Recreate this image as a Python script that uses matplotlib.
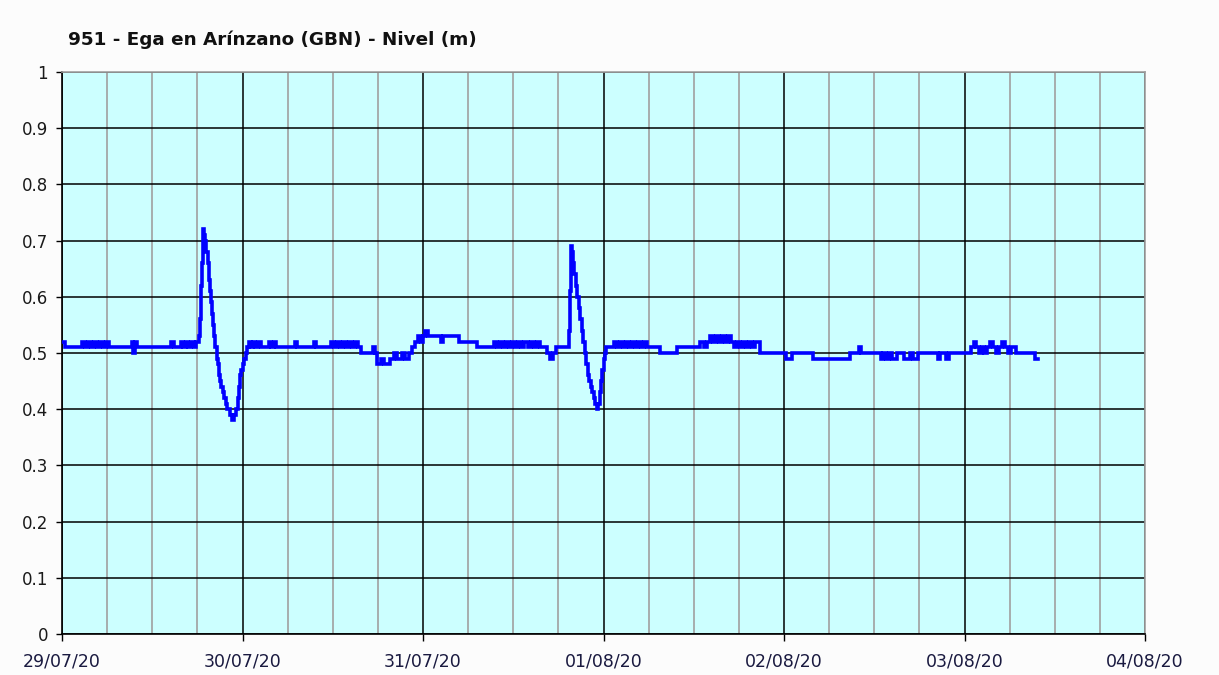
import matplotlib
matplotlib.use('Agg')
import matplotlib.pyplot as plt
import matplotlib.dates as mdates
import numpy as np
import pandas as pd

# Nivel (m) del río Ega en Arínzano, horas desde 29/07/20 00:00
horas = [0.0, 0.4, 2.7, 3.1, 3.5, 3.8, 4.2, 4.6, 5.0, 5.4, 5.8, 6.2, 6.6,
         9.3, 9.5, 9.7, 10.0, 10.4, 14.5, 14.9, 15.8, 16.1, 16.5, 16.8, 17.2, 17.5, 17.8,
         18.0, 18.2, 18.35, 18.5, 18.6, 18.75, 18.9, 19.05, 19.2, 19.35, 19.5, 19.65,
         19.8, 19.95, 20.1, 20.25, 20.4, 20.55, 20.7, 20.85, 21.0, 21.2, 21.4, 21.6,
         21.8, 22.0, 22.3, 22.6, 22.9, 23.2, 23.4, 23.55, 23.7, 23.85, 24.0, 24.2,
         24.4, 24.6, 24.9, 25.1, 25.4, 25.7, 26.0, 26.4,
         27.5, 27.8, 28.2, 28.5, 29.0, 31.0, 31.3, 33.5, 33.8,
         35.8, 36.2, 36.6, 37.0, 37.4, 37.8, 38.2, 38.6, 39.0, 39.4,
         39.7, 41.3, 41.6, 41.9, 42.4, 42.8, 43.6, 44.2, 44.5, 45.2, 45.6, 46.2,
         46.5, 46.9, 47.3, 47.7, 48.0, 48.3, 48.6, 50.4, 50.6, 52.8, 53.0,
         55.2, 57.4, 57.8, 58.2, 58.6, 59.0, 59.4, 59.8, 60.2, 60.6, 61.0, 61.4,
         62.0, 62.4, 62.8, 63.2, 63.6, 64.5, 64.9, 65.3, 65.7, 66.2,
         67.2, 67.35, 67.5, 67.65, 67.8, 67.95, 68.1, 68.3, 68.5, 68.7, 68.9, 69.1,
         69.3, 69.5, 69.7, 69.9, 70.1, 70.3, 70.5, 70.7, 70.9, 71.1, 71.3, 71.5,
         71.7, 71.85, 72.0, 72.15, 72.3, 72.5, 72.9,
         73.4, 73.8, 74.2, 74.6, 75.0, 75.4, 75.8, 76.2, 76.6, 77.0, 77.4, 77.8,
         79.5, 81.8, 84.8, 85.4, 85.8, 86.2, 86.6, 87.0, 87.4, 87.8, 88.2, 88.6,
         89.0, 89.4, 89.8, 90.2, 90.6, 91.0, 91.4, 91.8, 92.2, 92.8,
         96.3, 97.0, 99.8, 100.6, 104.8, 106.0, 106.3, 108.9, 109.2, 109.6, 110.0,
         110.4, 111.0, 112.0, 112.7, 113.2, 113.8, 114.2, 116.5, 116.8, 117.6,
         117.9, 119.8, 120.8, 121.2, 121.5, 121.9, 122.3, 122.6, 123.0, 123.4,
         123.8, 124.2, 124.6, 125.0, 125.4, 125.8, 126.2, 126.8, 127.4, 129.4, 129.8]
nivel = [0.52, 0.51, 0.52, 0.51, 0.52, 0.51, 0.52, 0.51, 0.52, 0.51, 0.52, 0.51, 0.51,
         0.52, 0.50, 0.52, 0.51, 0.51, 0.52, 0.51, 0.52, 0.51, 0.52, 0.51, 0.52, 0.51, 0.52,
         0.52, 0.53, 0.56, 0.62, 0.66, 0.72, 0.71, 0.70, 0.68, 0.66, 0.63, 0.61,
         0.59, 0.57, 0.55, 0.53, 0.51, 0.49, 0.48, 0.46, 0.45, 0.44, 0.43, 0.42,
         0.41, 0.40, 0.39, 0.38, 0.39, 0.40, 0.42, 0.44, 0.46, 0.47, 0.48, 0.49,
         0.50, 0.51, 0.52, 0.51, 0.52, 0.51, 0.52, 0.51,
         0.52, 0.51, 0.52, 0.51, 0.51, 0.52, 0.51, 0.52, 0.51,
         0.52, 0.51, 0.52, 0.51, 0.52, 0.51, 0.52, 0.51, 0.52, 0.51,
         0.50, 0.51, 0.50, 0.48, 0.49, 0.48, 0.49, 0.50, 0.49, 0.50, 0.49, 0.50,
         0.51, 0.52, 0.53, 0.52, 0.53, 0.54, 0.53, 0.52, 0.53, 0.52, 0.52,
         0.51, 0.52, 0.51, 0.52, 0.51, 0.52, 0.51, 0.52, 0.51, 0.52, 0.51, 0.52,
         0.51, 0.52, 0.51, 0.52, 0.51, 0.50, 0.49, 0.50, 0.51, 0.51,
         0.51, 0.54, 0.61, 0.69, 0.68, 0.66, 0.64, 0.62, 0.60, 0.58, 0.56, 0.54,
         0.52, 0.50, 0.48, 0.46, 0.45, 0.44, 0.43, 0.42, 0.41, 0.40, 0.41, 0.43,
         0.45, 0.47, 0.49, 0.50, 0.51, 0.51, 0.51,
         0.52, 0.51, 0.52, 0.51, 0.52, 0.51, 0.52, 0.51, 0.52, 0.51, 0.52, 0.51,
         0.50, 0.51, 0.52, 0.51, 0.52, 0.53, 0.52, 0.53, 0.52, 0.53, 0.52, 0.53,
         0.52, 0.51, 0.52, 0.51, 0.52, 0.51, 0.52, 0.51, 0.52, 0.50,
         0.49, 0.50, 0.49, 0.49, 0.50, 0.51, 0.50, 0.49, 0.50, 0.49, 0.50,
         0.49, 0.50, 0.49, 0.50, 0.49, 0.50, 0.50, 0.49, 0.50, 0.49,
         0.50, 0.50, 0.51, 0.52, 0.51, 0.50, 0.51, 0.50, 0.51, 0.52,
         0.51, 0.50, 0.51, 0.52, 0.51, 0.50, 0.51, 0.50, 0.50, 0.49, 0.49]

titulo = '951 - Ega en Arínzano (GBN) - Nivel (m)'

t0 = pd.Timestamp('2020-07-29')
fechas = t0 + pd.to_timedelta(horas, unit='h')

fig = plt.figure(figsize=(12.19, 6.75), dpi=100)
fig.patch.set_facecolor('#fcfcfc')
ax = fig.add_axes([62/1219, 41/675, 1083/1219, 562/675])
ax.set_facecolor('#ccffff')

ax.plot(fechas, nivel, color='#0000ff', lw=2.6, drawstyle='steps-post',
        solid_joinstyle='miter', zorder=3)

ax.set_xlim(t0, t0 + pd.Timedelta(days=6))
ax.set_ylim(0, 1)
ax.xaxis.set_major_locator(mdates.DayLocator())
ax.xaxis.set_minor_locator(mdates.HourLocator(byhour=[6, 12, 18]))
ax.xaxis.set_major_formatter(mdates.DateFormatter('%d/%m/%y'))
ax.set_yticks(np.arange(0, 1.01, 0.1))
ax.set_yticklabels(['0'] + ['%g' % v for v in np.arange(0.1, 0.95, 0.1)] + ['1'])

ax.grid(which='minor', axis='x', color='#a0a0a0', lw=1.2)
ax.grid(which='major', axis='x', color='#000000', lw=1.1)
ax.grid(which='major', axis='y', color='#000000', lw=1.1)
ax.set_axisbelow(True)

ax.tick_params(axis='x', which='major', length=5, width=1, pad=8, labelsize=12.5,
               labelcolor='#1a1a40')
ax.tick_params(axis='x', which='minor', length=0)
ax.tick_params(axis='y', length=4, width=1, pad=6, labelsize=12, labelcolor='#1a1a1a')

for s in ['left', 'bottom']:
    ax.spines[s].set_color('black')
    ax.spines[s].set_linewidth(1.2)
for s in ['top', 'right']:
    ax.spines[s].set_color('#a0a0a0')
    ax.spines[s].set_linewidth(1.2)

fig.text(68/1219, 1 - 40/675, titulo, fontsize=13.2, fontweight='bold',
         va='center', ha='left', color='#111111')

fig.savefig('out.png', dpi=100, facecolor=fig.get_facecolor())
